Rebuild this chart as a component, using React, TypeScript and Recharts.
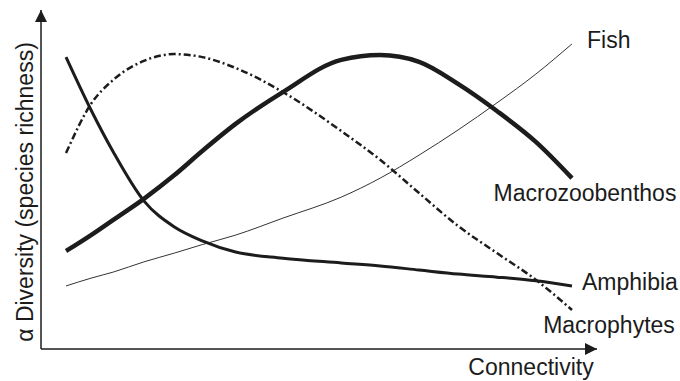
import { LineChart, Line, XAxis, YAxis, LabelList } from "recharts";

// connectivity (x) and alpha diversity (y), both on a 0-100 relative scale
const connectivity = [4.5, 9, 13, 18.5, 24, 29, 35, 43.5, 54, 61, 68, 75, 82, 89, 95.5];
const fish = [18.6, 20.9, 22.7, 25.7, 28.3, 30.8, 33.6, 38.6, 44.8, 50.4, 57.2, 64.6, 72.6, 81.1, 90.0];
const macrozoobenthos = [28.9, 33.6, 38.1, 44.3, 51.3, 58.4, 66.4, 75.8, 85.3, 86.7, 84.7, 78.2, 70.2, 61.1, 50.4];
const amphibia = [86.1, 70.5, 58.1, 43.7, 36.0, 31.9, 28.6, 26.8, 25.4, 24.5, 23.3, 22.1, 21.2, 20.1, 18.6];
const macrophytes = [57.8, 72.3, 79.4, 85.0, 87.0, 86.1, 82.9, 75.8, 64.3, 55.8, 46.0, 36.3, 28.3, 20.4, 11.5];

const data = connectivity.map((x, i) => ({
  x,
  fish: fish[i],
  macrozoobenthos: macrozoobenthos[i],
  amphibia: amphibia[i],
  macrophytes: macrophytes[i],
}));

const FONT = "'Liberation Sans', Arial, Helvetica, sans-serif";
const INK = "#1c1c1c";

function endLabel(text: string, dx: number, dy: number, anchor: "start" | "middle" | "end") {
  return (props: any) => {
    if (props.index !== connectivity.length - 1) return null;
    return (
      <text
        x={Number(props.x) + dx}
        y={Number(props.y) + dy}
        textAnchor={anchor}
        dominantBaseline="central"
        fontFamily={FONT}
        fontSize={23}
        fill={INK}
      >
        {text}
      </text>
    );
  };
}

export default function App() {
  return (
    <div>
      <style>{`body{margin:0;background:#fff}`}</style>
      <LineChart width={680} height={381} data={data} margin={{ top: 10, right: 83, bottom: 30, left: 41 }}>
        <defs>
          <marker id="arrowHead" viewBox="0 0 10 10" refX="10" refY="5" markerWidth="20" markerHeight="12"
            markerUnits="userSpaceOnUse" orient="auto-start-reverse">
            <path d="M0,0 L10,5 L0,10 z" fill={INK} />
          </marker>
        </defs>
        <XAxis
          type="number"
          dataKey="x"
          domain={[0, 100]}
          height={2}
          tick={false}
          tickLine={false}
          axisLine={{ stroke: INK, strokeWidth: 1.5, markerEnd: "url(#arrowHead)" }}
          allowDataOverflow
        />
        <YAxis
          type="number"
          domain={[0, 100]}
          width={0.01}
          tick={false}
          tickLine={false}
          axisLine={{ stroke: INK, strokeWidth: 1.5, markerStart: "url(#arrowHead)" }}
          allowDataOverflow
        />
        <Line dataKey="fish" type="monotone" stroke="#333" strokeWidth={1} dot={false} isAnimationActive={false}>
          <LabelList dataKey="fish" content={endLabel("Fish", 15, -4, "start")} />
        </Line>
        <Line dataKey="macrozoobenthos" type="monotone" stroke={INK} strokeWidth={4.5} dot={false} isAnimationActive={false}>
          <LabelList dataKey="macrozoobenthos" content={endLabel("Macrozoobenthos", 13, 15, "middle")} />
        </Line>
        <Line dataKey="amphibia" type="monotone" stroke={INK} strokeWidth={3} dot={false} isAnimationActive={false}>
          <LabelList dataKey="amphibia" content={endLabel("Amphibia", 10, -4, "start")} />
        </Line>
        <Line dataKey="macrophytes" type="monotone" stroke={INK} strokeWidth={2.5} strokeDasharray="7 3 2 3"
          dot={false} isAnimationActive={false}>
          <LabelList dataKey="macrophytes" content={endLabel("Macrophytes", 37, 15, "middle")} />
        </Line>
        <text x={531} y={367} textAnchor="middle" dominantBaseline="central" fontFamily={FONT} fontSize={23} fill={INK}>
          Connectivity
        </text>
        <text x={25} y={192} transform="rotate(-90 25 192)" textAnchor="middle" dominantBaseline="central"
          fontFamily={FONT} fontSize={23} fill={INK}>
          α Diversity (species richness)
        </text>
      </LineChart>
    </div>
  );
}
